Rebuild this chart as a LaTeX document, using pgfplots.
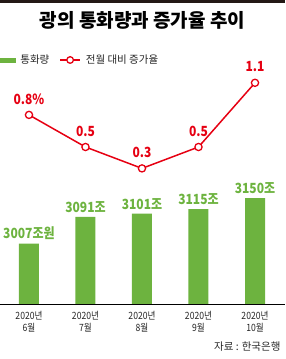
\documentclass[border=0pt]{standalone}
\usepackage{fontspec}
\setmainfont{Noto Sans CJK KR}
\newfontfamily\condfont{Noto Sans CJK KR}[FakeStretch=0.86]
\usepackage{pgfplots}
\pgfplotsset{compat=1.18}
\definecolor{barg}{HTML}{6DB33F}
\definecolor{linr}{HTML}{E60012}
\definecolor{topbar}{HTML}{231815}
\begin{document}
\begin{tikzpicture}
\path[use as bounding box] (0,0) rectangle (285pt,359pt);
\fill[topbar] (0,356pt) rectangle (285pt,359pt);
\node[font=\bfseries\fontsize{19}{22}\selectfont] at (142.5pt,339pt) {광의 통화량과 증가율 추이};
\begin{axis}[at={(0pt,55pt)}, anchor=south west, scale only axis,
  width=285pt, height=200pt,
  xmin=-0.513, xmax=4.531, ymin=2817, ymax=3446,
  axis x line*=bottom, axis y line=none,
  x axis line style={black, line width=0.8pt, -},
  xtick={0,1,2,3,4},
  xticklabels={{2020년\\6월},{2020년\\7월},{2020년\\8월},{2020년\\9월},{2020년\\10월}},
  major tick length=0pt,
  xticklabel style={align=center, inner sep=0pt, yshift=-7pt, font=\condfont\fontsize{10}{12}\selectfont, text=black!85},
  ybar, bar width=20pt,
  nodes near coords, point meta=explicit symbolic,
  every node near coord/.append style={font=\condfont\bfseries\fontsize{14}{16}\selectfont, text=barg, anchor=center, yshift=10pt, inner sep=0pt},
]
\addplot[fill=barg, draw=none] coordinates {(0,3007) [3007조원] (1,3091) [3091조] (2,3101) [3101조] (3,3115) [3115조] (4,3150) [3150조]};
\end{axis}
\begin{axis}[at={(0pt,158.5pt)}, anchor=south west, scale only axis,
  width=285pt, height=150pt,
  xmin=-0.513, xmax=4.531, ymin=0, ymax=1.402,
  hide axis, clip=false,
  legend columns=2,
  legend style={at={(axis description cs:0,0.9367)}, anchor=west, draw=none, fill=none, inner sep=0pt, outer sep=0pt,
    font=\fontsize{10.5}{12}\selectfont, text=black!85,
    nodes={inner sep=0pt},
    /tikz/every even column/.append style={column sep=10pt},
    /tikz/every odd column/.append style={column sep=5pt}},
  legend cell align=left,
]
\addlegendimage{legend image code/.code={\fill[barg] (0pt,-2pt) rectangle (15pt,2pt);}}
\addlegendentry{통화량}
\addplot[linr, line width=1.5pt, mark=*, mark size=3.6pt, mark options={fill=white, draw=linr, line width=1.3pt},
  nodes near coords, point meta=explicit symbolic,
  every node near coord/.append style={font=\condfont\bfseries\fontsize{14}{16}\selectfont, text=linr, anchor=center, yshift=16pt, inner sep=0pt},
  legend image code/.code={\draw[linr, line width=1.5pt] (0pt,0pt) -- (20pt,0pt); \draw[linr, fill=white, line width=1.3pt] (10pt,0pt) circle (3.3pt);}]
  coordinates {(0,0.8) [0.8\%] (1,0.5) [0.5] (2,0.3) [0.3] (3,0.5) [0.5] (4,1.1) [1.1]};
\addlegendentry{전월 대비 증가율}
\end{axis}
\node[anchor=east, font=\fontsize{10.5}{12}\selectfont, text=black!85] at (284pt,12pt) {자료 : 한국은행};
\end{tikzpicture}
\end{document}
